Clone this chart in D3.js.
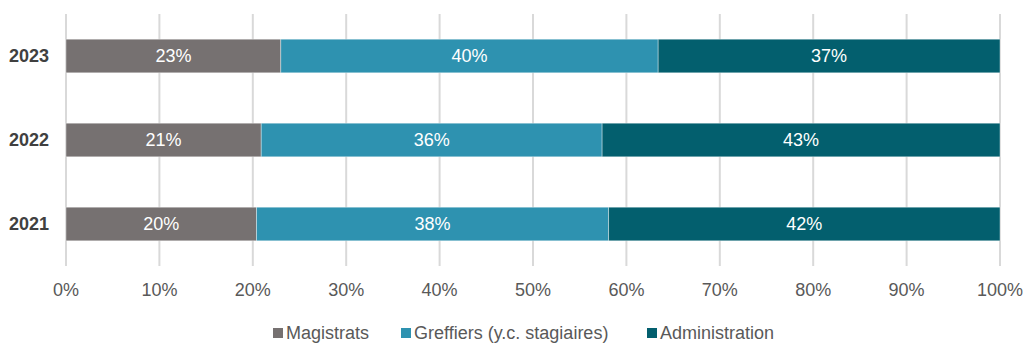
<!DOCTYPE html>
<html>
<head>
<meta charset="utf-8">
<script src="https://cdn.jsdelivr.net/npm/d3@7"></script>
<style>
  body { margin: 0; background: #fff; }
  text { font-family: "Liberation Sans", Arial, sans-serif; }
</style>
</head>
<body>
<script>
const years = ['2023', '2022', '2021']
const series = ['Magistrats', 'Greffiers (y.c. stagiaires)', 'Administration']
const magistrats = [23.0, 20.9, 20.4]
const greffiers = [40.4, 36.5, 37.7]
const administration = [36.6, 42.6, 41.9]
const labels = [['23%', '40%', '37%'], ['21%', '36%', '43%'], ['20%', '38%', '42%']]
const ticks = [0, 10, 20, 30, 40, 50, 60, 70, 80, 90, 100]
const colors = ['#767171', '#2E92B0', '#035F6E']

let width = 1026, height = 343
let svg = d3.select('body').append('svg')
  .attr('width', width)
  .attr('height', height)

const x = d3.scaleLinear().domain([0, 100]).range([66, 1000])
const y = d3.scaleBand().domain(years).range([14, 266]).paddingInner(0.6).paddingOuter(0.3)

// gridlines
svg.append('g').selectAll('line').data(ticks).enter().append('line')
  .attr('x1', d => x(d)).attr('x2', d => x(d))
  .attr('y1', 14).attr('y2', 266)
  .style('stroke', '#D9D9D9')
  .style('stroke-width', 2)

let rows = years.map((yr, i) => {
  const vals = [magistrats[i], greffiers[i], administration[i]]
  let acc = 0
  return vals.map((v, j) => {
    const seg = {year: yr, start: acc, end: acc + v, label: labels[i][j], k: j}
    acc += v
    return seg
  })
}).flat()

let bars = svg.append('g')
bars.selectAll('rect').data(rows).enter().append('rect')
  .attr('x', d => x(d.start))
  .attr('width', d => x(d.end) - x(d.start))
  .attr('y', d => y(d.year))
  .attr('height', y.bandwidth())
  .style('fill', d => colors[d.k])
  .style('stroke', '#fff')
  .style('stroke-opacity', 0.5)
  .style('stroke-width', 0.75)

bars.selectAll('text').data(rows).enter().append('text')
  .attr('x', d => (x(d.start) + x(d.end)) / 2)
  .attr('y', d => y(d.year) + y.bandwidth() / 2)
  .attr('dy', '0.36em')
  .attr('text-anchor', 'middle')
  .style('fill', '#fff')
  .style('font-size', '18px')
  .text(d => d.label)

// year labels
svg.append('g').selectAll('text').data(years).enter().append('text')
  .attr('x', 49)
  .attr('y', d => y(d) + y.bandwidth() / 2)
  .attr('dy', '0.36em')
  .attr('text-anchor', 'end')
  .style('font-size', '18px')
  .style('font-weight', 'bold')
  .style('fill', '#404040')
  .text(d => d)

// x tick labels
svg.append('g').selectAll('text').data(ticks).enter().append('text')
  .attr('x', d => x(d))
  .attr('y', 290)
  .attr('dy', '0.36em')
  .attr('text-anchor', 'middle')
  .style('font-size', '18px')
  .style('fill', '#595959')
  .text(d => d + '%')

// legend
const legendX = [273, 401, 647]
let legend = svg.append('g')
series.forEach((s, i) => {
  legend.append('rect')
    .attr('x', legendX[i]).attr('y', 328)
    .attr('width', 10).attr('height', 10)
    .style('fill', colors[i])
  legend.append('text')
    .attr('x', legendX[i] + 13).attr('y', 333)
    .attr('dy', '0.36em')
    .style('font-size', '18px')
    .style('fill', '#595959')
    .text(s)
})
</script>
</body>
</html>
